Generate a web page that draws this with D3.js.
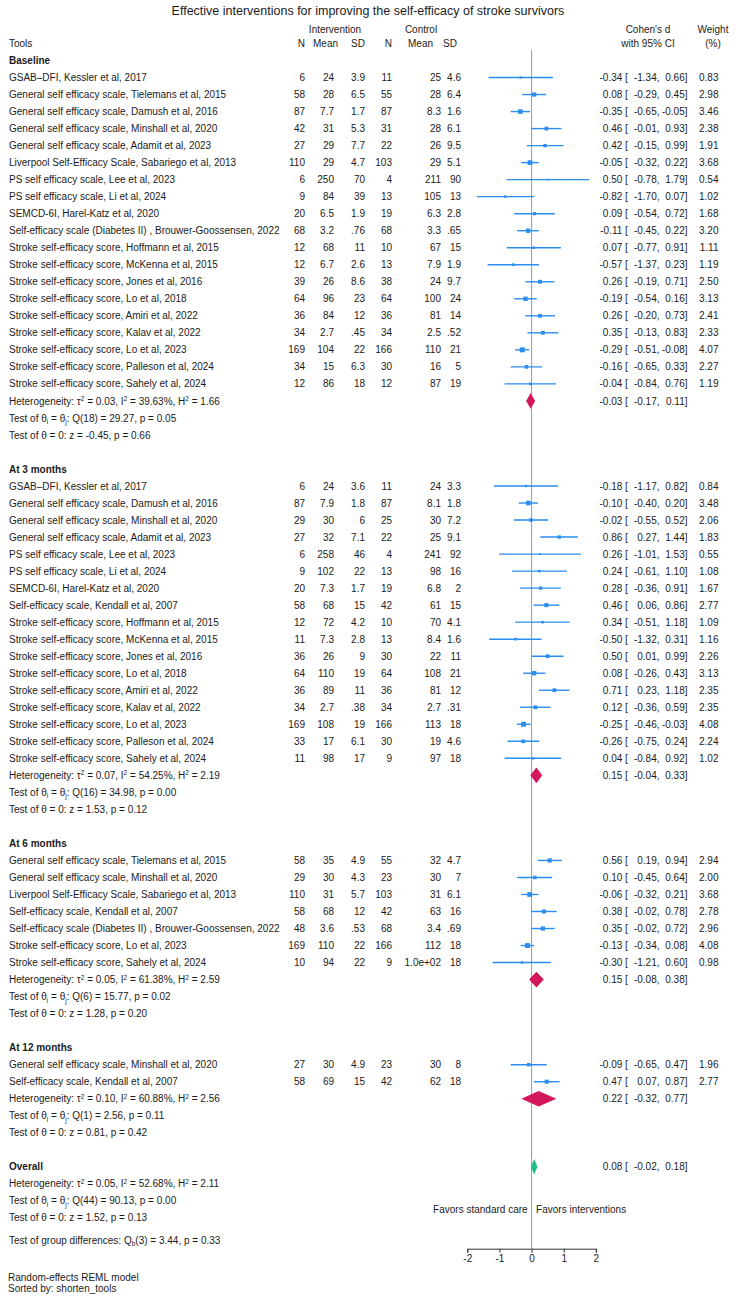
<!DOCTYPE html>
<html><head><meta charset="utf-8">
<script src="https://cdn.jsdelivr.net/npm/d3@7"></script>
<style>
body{margin:0;background:#fff}
text{font-family:"Liberation Sans",Arial,sans-serif;fill:#1b1b1b;font-size:10px}
</style>
</head><body>
<svg id="chart" width="736" height="1299"></svg>
<script>
// ---------------- DATA ----------------
const title = "Effective interventions for improving the self-efficacy of stroke survivors";
const groupNames = ["Baseline", "At 3 months", "At 6 months", "At 12 months"];
const groupSizes = [19, 17, 7, 2];

const studyLabels = [
 "GSAB\u2013DFI, Kessler et al, 2017",
 "General self efficacy scale, Tielemans et al, 2015",
 "General self efficacy scale, Damush et al, 2016",
 "General self efficacy scale, Minshall et al, 2020",
 "General self efficacy scale, Adamit et al, 2023",
 "Liverpool Self-Efficacy Scale, Sabariego et al, 2013",
 "PS self efficacy scale, Lee et al, 2023",
 "PS self efficacy scale, Li et al, 2024",
 "SEMCD-6I, Harel-Katz et al, 2020",
 "Self-efficacy scale (Diabetes II) , Brouwer-Goossensen, 2022",
 "Stroke self-efficacy score, Hoffmann et al, 2015",
 "Stroke self-efficacy score, McKenna et al, 2015",
 "Stroke self-efficacy score, Jones et al, 2016",
 "Stroke self-efficacy score, Lo et al, 2018",
 "Stroke self-efficacy score, Amiri et al, 2022",
 "Stroke self-efficacy score, Kalav et al, 2022",
 "Stroke self-efficacy score, Lo et al, 2023",
 "Stroke self-efficacy score, Palleson et al, 2024",
 "Stroke self-efficacy score, Sahely et al, 2024",
 // 3 months
 "GSAB\u2013DFI, Kessler et al, 2017",
 "General self efficacy scale, Damush et al, 2016",
 "General self efficacy scale, Minshall et al, 2020",
 "General self efficacy scale, Adamit et al, 2023",
 "PS self efficacy scale, Lee et al, 2023",
 "PS self efficacy scale, Li et al, 2024",
 "SEMCD-6I, Harel-Katz et al, 2020",
 "Self-efficacy scale, Kendall et al, 2007",
 "Stroke self-efficacy score, Hoffmann et al, 2015",
 "Stroke self-efficacy score, McKenna et al, 2015",
 "Stroke self-efficacy score, Jones et al, 2016",
 "Stroke self-efficacy score, Lo et al, 2018",
 "Stroke self-efficacy score, Amiri et al, 2022",
 "Stroke self-efficacy score, Kalav et al, 2022",
 "Stroke self-efficacy score, Lo et al, 2023",
 "Stroke self-efficacy score, Palleson et al, 2024",
 "Stroke self-efficacy score, Sahely et al, 2024",
 // 6 months
 "General self efficacy scale, Tielemans et al, 2015",
 "General self efficacy scale, Minshall et al, 2020",
 "Liverpool Self-Efficacy Scale, Sabariego et al, 2013",
 "Self-efficacy scale, Kendall et al, 2007",
 "Self-efficacy scale (Diabetes II) , Brouwer-Goossensen, 2022",
 "Stroke self-efficacy score, Lo et al, 2023",
 "Stroke self-efficacy score, Sahely et al, 2024",
 // 12 months
 "General self efficacy scale, Minshall et al, 2020",
 "Self-efficacy scale, Kendall et al, 2007"
];

const nInt   = ["6","58","87","42","27","110","6","9","20","68","12","12","39","64","36","34","169","34","12",
                "6","87","29","27","6","9","20","58","12","11","36","64","36","34","169","33","11",
                "58","29","110","58","48","169","10",
                "27","58"];
const meanInt= ["24","28","7.7","31","29","29","250","84","6.5","3.2","68","6.7","26","96","84","2.7","104","15","86",
                "24","7.9","30","32","258","102","7.3","68","72","7.3","26","110","89","2.7","108","17","98",
                "35","30","31","68","3.6","110","94",
                "30","69"];
const sdInt  = ["3.9","6.5","1.7","5.3","7.7","4.7","70","39","1.9",".76","11","2.6","8.6","23","12",".45","22","6.3","18",
                "3.6","1.8","6","7.1","46","22","1.7","15","4.2","2.8","9","19","11",".38","19","6.1","17",
                "4.9","4.3","5.7","12",".53","22","22",
                "4.9","15"];
const nCtl   = ["11","55","87","31","22","103","4","13","19","68","10","13","38","64","36","34","166","30","12",
                "11","87","25","22","4","13","19","42","10","13","30","64","36","34","166","30","9",
                "55","23","103","42","68","166","9",
                "23","42"];
const meanCtl= ["25","28","8.3","28","26","29","211","105","6.3","3.3","67","7.9","24","100","81","2.5","110","16","87",
                "24","8.1","30","25","241","98","6.8","61","70","8.4","22","108","81","2.7","113","19","97",
                "32","30","31","63","3.4","112","1.0e+02",
                "30","62"];
const sdCtl  = ["4.6","6.4","1.6","6.1","9.5","5.1","90","13","2.8",".65","15","1.9","9.7","24","14",".52","21","5","19",
                "3.3","1.8","7.2","9.1","92","16","2","15","4.1","1.6","11","21","12",".31","18","4.6","18",
                "4.7","7","6.1","16",".69","18","18",
                "8","18"];

const effect = [-0.34,0.08,-0.35,0.46,0.42,-0.05,0.50,-0.82,0.09,-0.11,0.07,-0.57,0.26,-0.19,0.26,0.35,-0.29,-0.16,-0.04,
                -0.18,-0.10,-0.02,0.86,0.26,0.24,0.28,0.46,0.34,-0.50,0.50,0.08,0.71,0.12,-0.25,-0.26,0.04,
                0.56,0.10,-0.06,0.38,0.35,-0.13,-0.30,
                -0.09,0.47];
const ciLow  = [-1.34,-0.29,-0.65,-0.01,-0.15,-0.32,-0.78,-1.70,-0.54,-0.45,-0.77,-1.37,-0.19,-0.54,-0.20,-0.13,-0.51,-0.65,-0.84,
                -1.17,-0.40,-0.55,0.27,-1.01,-0.61,-0.36,0.06,-0.51,-1.32,0.01,-0.26,0.23,-0.36,-0.46,-0.75,-0.84,
                0.19,-0.45,-0.32,-0.02,-0.02,-0.34,-1.21,
                -0.65,0.07];
const ciHigh = [0.66,0.45,-0.05,0.93,0.99,0.22,1.79,0.07,0.72,0.22,0.91,0.23,0.71,0.16,0.73,0.83,-0.08,0.33,0.76,
                0.82,0.20,0.52,1.44,1.53,1.10,0.91,0.86,1.18,0.31,0.99,0.43,1.18,0.59,-0.03,0.24,0.92,
                0.94,0.64,0.21,0.78,0.72,0.08,0.60,
                0.47,0.87];
const weightPct = [0.83,2.98,3.46,2.38,1.91,3.68,0.54,1.02,1.68,3.20,1.11,1.19,2.50,3.13,2.41,2.33,4.07,2.27,1.19,
                0.84,3.48,2.06,1.83,0.55,1.08,1.67,2.77,1.09,1.16,2.26,3.13,2.35,2.35,4.08,2.24,1.02,
                2.94,2.00,3.68,2.78,2.96,4.08,0.98,
                1.96,2.77];

// subgroup summaries (Baseline, 3m, 6m, 12m), then overall
const sumEffect = [-0.03, 0.15, 0.15, 0.22];
const sumLow    = [-0.17, -0.04, -0.08, -0.32];
const sumHigh   = [0.11, 0.33, 0.38, 0.77];
const tau2  = ["0.03","0.07","0.05","0.10"];
const i2    = ["39.63","54.25","61.38","60.88"];
const h2    = ["1.66","2.19","2.59","2.56"];
const qDf   = ["18","16","6","1"];
const qStat = ["29.27","34.98","15.77","2.56"];
const qP    = ["0.05","0.00","0.02","0.11"];
const zStat = ["-0.45","1.53","1.28","0.81"];
const zP    = ["0.66","0.12","0.20","0.42"];

const overallEffect = 0.08, overallLow = -0.02, overallHigh = 0.18;
const overallStats = {tau2:"0.05", i2:"52.68", h2:"2.11", qDf:"44", q:"90.13", qP:"0.00", z:"1.52", zP:"0.13"};
const groupDiff = {df:"3", q:"3.44", p:"0.33"};
const xTicks = [-2, -1, 0, 1, 2];

// ---------------- LAYOUT ----------------
const svg = d3.select("#chart");
const rowH = 17.02, row0 = 60.5;
const yRow = d3.scaleLinear().domain([0, 1]).range([row0, row0 + rowH]);
const x = d3.scaleLinear().domain([-2, 2]).range([467.3, 595.9]);
const axisY = 1248.7;
const blue = "#2a8df0", red = "#d3175c", green = "#1fbd7e";

const col = {label: 9, nI: 305, mI: 334, sI: 365, nC: 392, mC: 441, sC: 461,
             es: 622.3, br: 625, lo: 659.5, hi: 687.5, wt: 718.5};

function rich(sel, segs){
  segs.forEach(s => {
    const t = typeof s === "string" ? [s, ""] : s;
    const sp = sel.append("tspan").text(t[0]);
    if (t[1] === "sup") sp.attr("dy", -3.5).attr("font-size", 6.5);
    else if (t[1] === "sub") sp.attr("dy", 2.5).attr("font-size", 6.5);
  });
  let shift = 0;
  sel.selectAll("tspan").each(function(){
    const dy = +d3.select(this).attr("dy") || 0;
    if (shift !== 0 && dy === 0){ d3.select(this).attr("dy", -shift); shift = 0; }
    else if (dy !== 0) shift = dy;
  });
}
function txt(xp, yc, s, anchor, weight){
  return svg.append("text").attr("x", xp).attr("y", yc + 3.6)
    .attr("text-anchor", anchor || "start").attr("font-weight", weight || null).text(s);
}

// title and headers
svg.append("text").attr("x", 368).attr("y", 15.3).attr("text-anchor", "middle")
   .style("font-size", "12.5px").text(title);
txt(335, 29.5, "Intervention", "middle");
txt(421, 29.5, "Control", "middle");
txt(648, 29.5, "Cohen's d", "middle");
txt(713, 29.5, "Weight", "middle");
txt(col.label, 43.3, "Tools");
txt(col.nI, 43.3, "N", "end");
txt(338, 43.3, "Mean", "end");
txt(col.sI, 43.3, "SD", "end");
txt(col.nC, 43.3, "N", "end");
txt(433, 43.3, "Mean", "end");
txt(457, 43.3, "SD", "end");
txt(648, 43.3, "with 95% CI", "middle");
txt(713, 43.3, "(%)", "middle");

// zero reference line
svg.append("line").attr("x1", x(0)).attr("x2", x(0)).attr("y1", 50).attr("y2", axisY)
   .attr("stroke", "#9a9a9a").attr("stroke-width", 1);

function esText(yc, e, l, h){
  txt(col.es, yc, e.toFixed(2), "end");
  txt(col.br, yc, "[", "start");
  txt(col.lo, yc, l.toFixed(2) + ",", "end");
  txt(col.hi, yc, h.toFixed(2) + "]", "end");
}
function diamond(yc, e, l, h, color){
  const hh = 7.8;
  svg.append("path")
    .attr("d", `M${x(l)},${yc} L${x(e)},${yc - hh} L${x(h)},${yc} L${x(e)},${yc + hh} Z`)
    .attr("fill", color);
}

let r = 0, s = 0;
groupNames.forEach((g, gi) => {
  txt(col.label, yRow(r), g, "start", "bold");
  r++;
  for (let k = 0; k < groupSizes[gi]; k++, s++, r++){
    const yc = yRow(r);
    txt(col.label, yc, studyLabels[s]);
    txt(col.nI, yc, nInt[s], "end");
    txt(col.mI, yc, meanInt[s], "end");
    txt(col.sI, yc, sdInt[s], "end");
    txt(col.nC, yc, nCtl[s], "end");
    txt(col.mC, yc, meanCtl[s], "end");
    txt(col.sC, yc, sdCtl[s], "end");
    svg.append("line").attr("x1", x(ciLow[s])).attr("x2", x(ciHigh[s]))
       .attr("y1", yc).attr("y2", yc).attr("stroke", blue).attr("stroke-width", 1.4);
    const side = 2.45 * Math.sqrt(weightPct[s]);
    svg.append("rect").attr("x", x(effect[s]) - side/2).attr("y", yc - side/2)
       .attr("width", side).attr("height", side).attr("fill", blue);
    esText(yc, effect[s], ciLow[s], ciHigh[s]);
    txt(col.wt, yc, weightPct[s].toFixed(2), "end");
  }
  const yc = yRow(r);
  rich(txt(col.label, yc, ""), ["Heterogeneity: \u03c4", ["2","sup"], ` = ${tau2[gi]}, I`, ["2","sup"], ` = ${i2[gi]}%, H`, ["2","sup"], ` = ${h2[gi]}`]);
  diamond(yc, sumEffect[gi], sumLow[gi], sumHigh[gi], red);
  esText(yc, sumEffect[gi], sumLow[gi], sumHigh[gi]);
  r++;
  rich(txt(col.label, yRow(r), ""), ["Test of \u03b8", ["i","sub"], " = \u03b8", ["j","sub"], `: Q(${qDf[gi]}) = ${qStat[gi]}, p = ${qP[gi]}`]);
  r++;
  txt(col.label, yRow(r), `Test of \u03b8 = 0: z = ${zStat[gi]}, p = ${zP[gi]}`);
  r += 2;
});

// overall
txt(col.label, yRow(r), "Overall", "start", "bold");
diamond(yRow(r), overallEffect, overallLow, overallHigh, green);
esText(yRow(r), overallEffect, overallLow, overallHigh);
r++;
rich(txt(col.label, yRow(r), ""), ["Heterogeneity: \u03c4", ["2","sup"], ` = ${overallStats.tau2}, I`, ["2","sup"], ` = ${overallStats.i2}%, H`, ["2","sup"], ` = ${overallStats.h2}`]);
r++;
rich(txt(col.label, yRow(r), ""), ["Test of \u03b8", ["i","sub"], " = \u03b8", ["j","sub"], `: Q(${overallStats.qDf}) = ${overallStats.q}, p = ${overallStats.qP}`]);
txt(x(0) - 4, yRow(r + 0.5), "Favors standard care", "end");
txt(x(0) + 4.5, yRow(r + 0.5), "Favors interventions", "start");
r++;
txt(col.label, yRow(r), `Test of \u03b8 = 0: z = ${overallStats.z}, p = ${overallStats.zP}`);
rich(txt(col.label, yRow(r + 1.3), ""), ["Test of group differences: Q", ["b","sub"], `(${groupDiff.df}) = ${groupDiff.q}, p = ${groupDiff.p}`]);

// axis
const axis = d3.axisBottom(x).tickValues(xTicks).tickSize(4).tickPadding(2).tickFormat(d => String(d));
const ag = svg.append("g").attr("transform", `translate(0,${axisY})`).call(axis);
ag.select(".domain").attr("stroke", "#333");
ag.selectAll(".tick line").attr("stroke", "#333");
ag.selectAll(".tick text").attr("font-family", "Liberation Sans, Arial, sans-serif").attr("font-size", 10).attr("fill", "#1b1b1b");

// notes
svg.append("text").attr("x", 8).attr("y", 1281).text("Random-effects REML model");
svg.append("text").attr("x", 8).attr("y", 1291.5).text("Sorted by: shorten_tools");
</script>
</body></html>
